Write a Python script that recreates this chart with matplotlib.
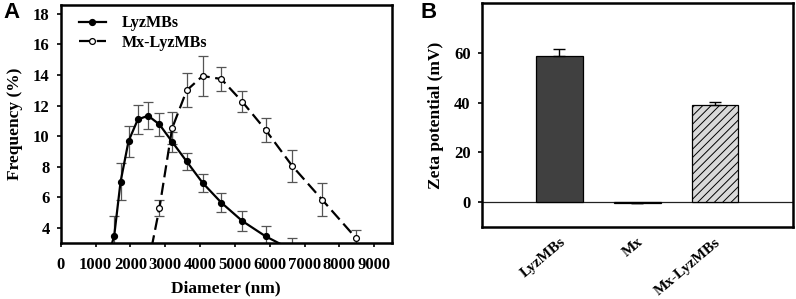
import numpy as np
import matplotlib
matplotlib.use("Agg")
import matplotlib.pyplot as plt

# ── Panel A: size distribution ──────────────────────────────────────────
lyz_diam = [1360, 1536, 1718, 1947, 2214, 2510, 2834, 3197, 3616, 4074,
            4609, 5210, 5878, 6641]
lyz_freq = [2.1, 3.50, 7.02, 9.68, 11.10, 11.34, 10.77, 9.64, 8.35, 6.95,
            5.66, 4.46, 3.46, 2.56]
lyz_err = [0.0, 1.29, 1.22, 1.02, 0.95, 0.87, 0.78, 0.65, 0.58, 0.59,
           0.62, 0.64, 0.68, 0.80]

mx_diam = [2510, 2834, 3197, 3616, 4074, 4609, 5210, 5878, 6641, 7500, 8473]
mx_freq = [1.6, 5.31, 10.51, 13.00, 13.94, 13.74, 12.26, 10.42, 8.07, 5.86, 3.35]
mx_err = [0.0, 0.53, 1.05, 1.12, 1.31, 0.80, 0.67, 0.80, 1.03, 1.07, 0.55]

x_ticks = [0, 1000, 2000, 3000, 4000, 5000, 6000, 7000, 8000, 9000]
y_ticks_a = [4, 6, 8, 10, 12, 14, 16, 18]

# ── Panel B: zeta potential ─────────────────────────────────────────────
samples = ["LyzMBs", "Mx", "Mx-LyzMBs"]
zeta = [58.7, -0.3, 39.1]
zeta_err = [2.6, 0.0, 1.2]
y_ticks_b = [0, 20, 40, 60]

plt.rcParams["font.family"] = ["Liberation Serif", "DejaVu Serif"]
plt.rcParams["font.weight"] = "bold"
plt.rcParams["hatch.linewidth"] = 0.7

W, H = 796, 299
fig = plt.figure(figsize=(W / 100, H / 100), dpi=100)


def px_axes(l, t, r, b):
    return fig.add_axes([l / W, 1 - b / H, (r - l) / W, (b - t) / H])


axA = px_axes(60.7, 4.7, 391.7, 243.3)
axB = px_axes(481.7, 2.7, 792.7, 227.3)

ERR_COLOR = "#555555"
TICK_FS = 12

axA.errorbar(lyz_diam, lyz_freq, yerr=lyz_err, fmt="none", ecolor=ERR_COLOR,
             elinewidth=0.9, capsize=3.5, capthick=0.9, zorder=2)
axA.errorbar(mx_diam, mx_freq, yerr=mx_err, fmt="none", ecolor=ERR_COLOR,
             elinewidth=0.9, capsize=3.5, capthick=0.9, zorder=2)
axA.plot(lyz_diam, lyz_freq, "-", color="black", lw=1.6, marker="o",
         ms=4.2, mfc="black", mec="black", label="LyzMBs", zorder=3)
axA.plot(mx_diam, mx_freq, color="black", lw=1.6, ls=(0, (5.5, 2.5)),
         marker="o", ms=4.2, mfc="white", mec="black", mew=0.9,
         label="Mx-LyzMBs", zorder=3)

axA.set_xlim(0, 9500)
axA.set_ylim(3, 18.6)
axA.set_xticks(x_ticks)
axA.set_yticks(y_ticks_a)
axA.tick_params(direction="out", length=3, width=1.2, labelsize=TICK_FS)
axA.tick_params(axis="x", pad=7)
axA.tick_params(axis="y", pad=5)
axA.set_xlabel("Diameter (nm)", fontsize=12.5, fontweight="bold", labelpad=5)
axA.set_ylabel("Frequency (%)", fontsize=12.5, fontweight="bold", labelpad=7)
for sp in axA.spines.values():
    sp.set_linewidth(1.8)

leg = axA.legend(loc="upper left", bbox_to_anchor=(0.055, 0.955),
                 frameon=False, fontsize=11.5, borderpad=0, borderaxespad=0,
                 handlelength=1.7, handletextpad=1.0, labelspacing=0.2)

xb = np.arange(len(samples))
bar_colors = ["#404040", "white", "#d9d9d9"]
hatches = ["", "", "////"]
bars = axB.bar(xb, zeta, width=0.6, color=bar_colors, edgecolor="black",
               linewidth=0.9, zorder=2)
for b, h in zip(bars, hatches):
    b.set_hatch(h)
axB.errorbar(xb, zeta, yerr=[np.zeros(len(zeta)), zeta_err], fmt="none",
             ecolor="black", elinewidth=1.0, capsize=4, capthick=1.0, zorder=3)
axB.axhline(0, color="#222222", lw=0.9, zorder=1)

axB.set_xlim(-1, 3)
axB.set_ylim(-10, 80)
axB.set_yticks(y_ticks_b)
axB.set_xticks(xb)
axB.set_xticklabels(samples, rotation=40, ha="right", va="top",
                    rotation_mode="anchor", fontsize=11)
axB.tick_params(axis="x", length=0, pad=6)
axB.tick_params(axis="y", direction="out", length=3, width=1.2,
                labelsize=TICK_FS, pad=5)
axB.set_ylabel("Zeta potential (mV)", fontsize=12.5, fontweight="bold", labelpad=7)
for sp in axB.spines.values():
    sp.set_linewidth(1.8)

fig.text(12 / W, 1 - 12 / H, "A", fontsize=16, fontweight="bold",
         family=["Liberation Sans", "DejaVu Sans"], ha="center", va="center")
fig.text(429 / W, 1 - 12 / H, "B", fontsize=16, fontweight="bold",
         family=["Liberation Sans", "DejaVu Sans"], ha="center", va="center")

fig.savefig("out.png", dpi=100)
